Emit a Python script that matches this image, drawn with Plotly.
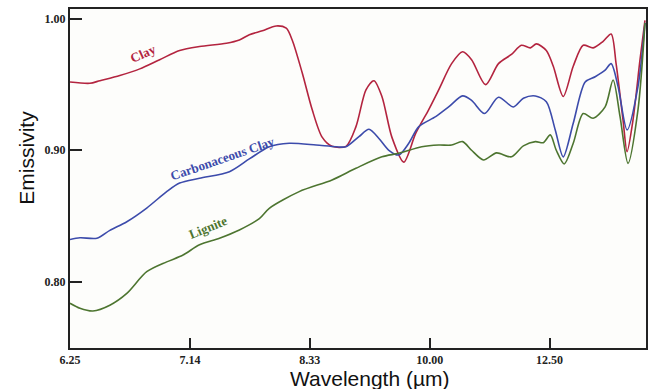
import plotly.graph_objects as go

# Wavenumber (cm^-1) positions and emissivity values
clay_wn = [1600, 1566.8, 1550.1, 1516.9, 1483.6, 1450.4, 1417.1, 1383.9, 1339, 1317.4,
           1300.8, 1279.1, 1255.9, 1239.2, 1229.3, 1212.6, 1196, 1179.4, 1162.8, 1139.5,
           1122.9, 1106.2, 1092.9, 1079.6, 1063, 1043.1, 1023.1, 1001.5, 984.9, 963.3,
           945, 930, 906.7, 885.1, 863.5, 846.9, 832, 821.9, 805.3, 793.7,
           777.1, 760.4, 743.8, 727.2, 710.5, 697.2, 688.9, 677.3, 670.6, 660.7,
           649, 640.7]
clay_em = [0.952, 0.951, 0.953, 0.957, 0.962, 0.969, 0.976, 0.979, 0.9815, 0.984,
           0.988, 0.991, 0.9947, 0.993, 0.984, 0.959, 0.931, 0.910, 0.903, 0.903,
           0.918, 0.946, 0.953, 0.941, 0.910, 0.891, 0.913, 0.931, 0.946, 0.966,
           0.975, 0.969, 0.950, 0.966, 0.973, 0.980, 0.978, 0.981, 0.976, 0.964,
           0.941, 0.964, 0.980, 0.978, 0.983, 0.9886, 0.966, 0.923, 0.899, 0.923,
           0.969, 0.999]

carb_wn = [1600, 1583.4, 1555.1, 1533.5, 1505.2, 1472, 1438.7, 1417.1, 1383.9, 1334,
           1300.8, 1267.5, 1234.3, 1189.4, 1156.1, 1139.5, 1117.9, 1101.2, 1084.6, 1068,
           1051.4, 1034.8, 1018.1, 989.9, 968.3, 945, 930, 908.4, 885.1, 860.2,
           843.6, 823.6, 805.3, 790.4, 777.1, 760.4, 740.5, 723.8, 707.2, 697.2,
           685.6, 670.6, 652.4, 640.7]
carb_em = [0.832, 0.8334, 0.833, 0.839, 0.8456, 0.856, 0.8685, 0.875, 0.8787, 0.8837,
           0.8934, 0.9027, 0.9053, 0.904, 0.9027, 0.9027, 0.9104, 0.916, 0.909, 0.900,
           0.8964, 0.9053, 0.918, 0.9256, 0.933, 0.9414, 0.938, 0.928, 0.9404, 0.933,
           0.9396, 0.9414, 0.937, 0.9155, 0.895, 0.9206, 0.952, 0.956, 0.961, 0.966,
           0.9485, 0.9155, 0.9485, 0.997]

lig_wn = [1600, 1583.4, 1561.8, 1533.5, 1505.2, 1472, 1438.7, 1412.1, 1383.9, 1350.6,
          1317.4, 1284.1, 1267.5, 1217.6, 1162.8, 1122.9, 1079.6, 1051.4, 1013.1, 984.9,
          963.3, 945, 930, 910.1, 888.4, 863.5, 843.6, 823.6, 810.3, 798.7,
          788.7, 775.4, 760.4, 743.8, 727.2, 707.2, 693.9, 682.3, 669, 652.4,
          640.7]
lig_em = [0.7835, 0.7797, 0.7776, 0.782, 0.791, 0.8075, 0.815, 0.820, 0.828, 0.833,
          0.8393, 0.848, 0.8558, 0.8685, 0.8774, 0.8863, 0.895, 0.8977, 0.9027, 0.904,
          0.904, 0.9066, 0.900, 0.8926, 0.898, 0.895, 0.9033, 0.9066, 0.9058, 0.9117,
          0.900, 0.8896, 0.9053, 0.928, 0.9244, 0.933, 0.9535, 0.9256, 0.890, 0.9307,
          0.997]

tick_wn = [1600, 1400, 1200, 1000, 800]
tick_labels = ["6.25", "7.14", "8.33", "10.00", "12.50"]
y_ticks = [0.80, 0.90, 1.00]
y_labels = ["0.80", "0.90", "1.00"]

RED = "#b3243f"
BLUE = "#3c4bab"
GREEN = "#4d7530"

fig = go.Figure()
for wn, em, col in [(clay_wn, clay_em, RED), (carb_wn, carb_em, BLUE), (lig_wn, lig_em, GREEN)]:
    fig.add_trace(go.Scatter(x=wn, y=em, mode="lines", line=dict(color=col, width=1.6, shape="spline", smoothing=0.8),
                             showlegend=False, hoverinfo="skip"))

tickfont = dict(family="Liberation Serif", size=12, color="#222")
fig.update_xaxes(range=[1600, 639], tickvals=tick_wn, ticktext=["<b>%s</b>" % t for t in tick_labels],
                 ticks="inside", ticklen=10, tickwidth=1.5, tickcolor="#222", tickfont=tickfont,
                 showline=True, linecolor="#222", linewidth=2, mirror=True, showgrid=False, zeroline=False)
fig.update_yaxes(range=[0.7494, 1.0076], tickvals=y_ticks, ticktext=["<b>%s</b>" % t for t in y_labels],
                 ticks="inside", ticklen=12, tickwidth=1.5, tickcolor="#222", tickfont=tickfont,
                 showline=True, linecolor="#222", linewidth=2, mirror=True, showgrid=False, zeroline=False)

annos = [
    dict(text="<b>Clay</b>", x=1478, y=0.9735, color=RED, angle=-24),
    dict(text="<b>Carbonaceous Clay</b>", x=1346, y=0.8935, color=BLUE, angle=-19),
    dict(text="<b>Lignite</b>", x=1370, y=0.8415, color=GREEN, angle=-22),
]
for a in annos:
    fig.add_annotation(x=a["x"], y=a["y"], xref="x", yref="y", text=a["text"], showarrow=False,
                       textangle=a["angle"], font=dict(family="Liberation Serif", size=13, color=a["color"]))

fig.add_annotation(x=-0.0761, y=0.562, xref="paper", yref="paper", xanchor="center", yanchor="middle",
                   text="Emissivity", showarrow=False,
                   textangle=-90, font=dict(family="Liberation Sans", size=21, color="#111"))
fig.add_annotation(x=0.52, y=-0.0885, xref="paper", yref="paper", xanchor="center", yanchor="middle",
                   text="Wavelength (µm)", showarrow=False,
                   font=dict(family="Liberation Sans", size=21, color="#111"))

fig.update_layout(width=653, height=389, margin=dict(l=70, r=5, t=9, b=41),
                  paper_bgcolor="white", plot_bgcolor="#fdfdfb")
fig.write_html("out.html")
